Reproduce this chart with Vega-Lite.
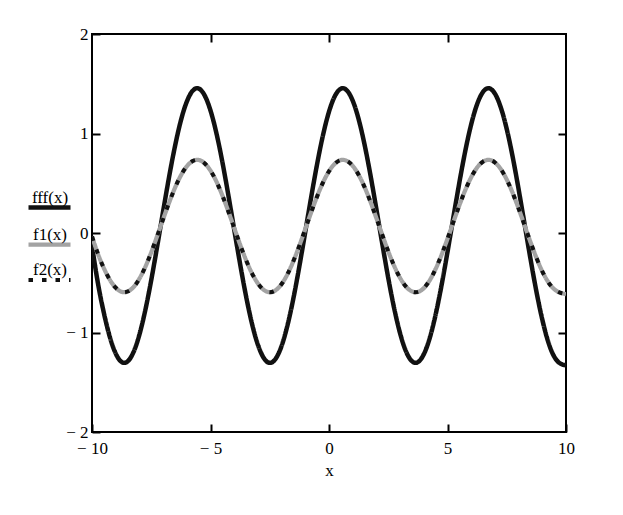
{
  "$schema": "https://vega.github.io/schema/vega-lite/v6.json",
  "width": 474,
  "height": 398,
  "autosize": {"type": "none"},
  "padding": {"left": 92, "top": 34, "right": 57, "bottom": 83},
  "background": "white",
  "config": {
    "view": {"stroke": "black", "strokeWidth": 2},
    "axis": {
      "grid": false,
      "domain": false,
      "labelFont": "Liberation Serif",
      "titleFont": "Liberation Serif",
      "labelColor": "black",
      "titleColor": "black",
      "tickColor": "black",
      "tickWidth": 2,
      "labelFontSize": 17,
      "titleFontSize": 17,
      "titleFontWeight": "normal",
      "labelOverlap": false,
      "labelFlush": false
    }
  },
  "data": {
    "values": [
      {"x": -10, "fff": -0.13, "f1": -0.035, "f2": -0.035},
      {"x": -9.75, "fff": -0.504, "f1": -0.209, "f2": -0.209},
      {"x": -9.5, "fff": -0.802, "f1": -0.353, "f2": -0.353},
      {"x": -9.25, "fff": -1.043, "f1": -0.469, "f2": -0.469},
      {"x": -9, "fff": -1.211, "f1": -0.55, "f2": -0.55},
      {"x": -8.75, "fff": -1.296, "f1": -0.591, "f2": -0.591},
      {"x": -8.5, "fff": -1.291, "f1": -0.588, "f2": -0.588},
      {"x": -8.25, "fff": -1.198, "f1": -0.544, "f2": -0.544},
      {"x": -8, "fff": -1.022, "f1": -0.459, "f2": -0.459},
      {"x": -7.75, "fff": -0.775, "f1": -0.34, "f2": -0.34},
      {"x": -7.5, "fff": -0.473, "f1": -0.194, "f2": -0.194},
      {"x": -7.25, "fff": -0.135, "f1": -0.031, "f2": -0.031},
      {"x": -7, "fff": 0.217, "f1": 0.138, "f2": 0.138},
      {"x": -6.75, "fff": 0.56, "f1": 0.303, "f2": 0.303},
      {"x": -6.5, "fff": 0.87, "f1": 0.453, "f2": 0.453},
      {"x": -6.25, "fff": 1.13, "f1": 0.578, "f2": 0.578},
      {"x": -6, "fff": 1.32, "f1": 0.67, "f2": 0.67},
      {"x": -5.75, "fff": 1.43, "f1": 0.723, "f2": 0.723},
      {"x": -5.5, "fff": 1.452, "f1": 0.734, "f2": 0.734},
      {"x": -5.25, "fff": 1.384, "f1": 0.701, "f2": 0.701},
      {"x": -5, "fff": 1.231, "f1": 0.627, "f2": 0.627},
      {"x": -4.75, "fff": 1.003, "f1": 0.517, "f2": 0.517},
      {"x": -4.5, "fff": 0.715, "f1": 0.378, "f2": 0.378},
      {"x": -4.25, "fff": 0.385, "f1": 0.219, "f2": 0.219},
      {"x": -4, "fff": 0.035, "f1": 0.051, "f2": 0.051},
      {"x": -3.75, "fff": -0.312, "f1": -0.117, "f2": -0.117},
      {"x": -3.5, "fff": -0.635, "f1": -0.272, "f2": -0.272},
      {"x": -3.25, "fff": -0.911, "f1": -0.405, "f2": -0.405},
      {"x": -3, "fff": -1.123, "f1": -0.507, "f2": -0.507},
      {"x": -2.75, "fff": -1.257, "f1": -0.572, "f2": -0.572},
      {"x": -2.5, "fff": -1.305, "f1": -0.595, "f2": -0.595},
      {"x": -2.25, "fff": -1.263, "f1": -0.575, "f2": -0.575},
      {"x": -2, "fff": -1.134, "f1": -0.513, "f2": -0.513},
      {"x": -1.75, "fff": -0.926, "f1": -0.413, "f2": -0.413},
      {"x": -1.5, "fff": -0.654, "f1": -0.281, "f2": -0.281},
      {"x": -1.25, "fff": -0.334, "f1": -0.127, "f2": -0.127},
      {"x": -1, "fff": 0.013, "f1": 0.04, "f2": 0.04},
      {"x": -0.75, "fff": 0.363, "f1": 0.209, "f2": 0.209},
      {"x": -0.5, "fff": 0.695, "f1": 0.369, "f2": 0.369},
      {"x": -0.25, "fff": 0.987, "f1": 0.509, "f2": 0.509},
      {"x": 0, "fff": 1.219, "f1": 0.621, "f2": 0.621},
      {"x": 0.25, "fff": 1.377, "f1": 0.697, "f2": 0.697},
      {"x": 0.5, "fff": 1.45, "f1": 0.733, "f2": 0.733},
      {"x": 0.75, "fff": 1.434, "f1": 0.725, "f2": 0.725},
      {"x": 1, "fff": 1.33, "f1": 0.675, "f2": 0.675},
      {"x": 1.25, "fff": 1.144, "f1": 0.585, "f2": 0.585},
      {"x": 1.5, "fff": 0.889, "f1": 0.462, "f2": 0.462},
      {"x": 1.75, "fff": 0.581, "f1": 0.314, "f2": 0.314},
      {"x": 2, "fff": 0.239, "f1": 0.149, "f2": 0.149},
      {"x": 2.25, "fff": -0.112, "f1": -0.02, "f2": -0.02},
      {"x": 2.5, "fff": -0.452, "f1": -0.184, "f2": -0.184},
      {"x": 2.75, "fff": -0.757, "f1": -0.331, "f2": -0.331},
      {"x": 3, "fff": -1.009, "f1": -0.452, "f2": -0.452},
      {"x": 3.25, "fff": -1.19, "f1": -0.539, "f2": -0.539},
      {"x": 3.5, "fff": -1.288, "f1": -0.587, "f2": -0.587},
      {"x": 3.75, "fff": -1.298, "f1": -0.592, "f2": -0.592},
      {"x": 4, "fff": -1.219, "f1": -0.554, "f2": -0.554},
      {"x": 4.25, "fff": -1.056, "f1": -0.475, "f2": -0.475},
      {"x": 4.5, "fff": -0.819, "f1": -0.361, "f2": -0.361},
      {"x": 4.75, "fff": -0.524, "f1": -0.219, "f2": -0.219},
      {"x": 5, "fff": -0.191, "f1": -0.058, "f2": -0.058},
      {"x": 5.25, "fff": 0.161, "f1": 0.111, "f2": 0.111},
      {"x": 5.5, "fff": 0.506, "f1": 0.278, "f2": 0.278},
      {"x": 5.75, "fff": 0.824, "f1": 0.431, "f2": 0.431},
      {"x": 6, "fff": 1.092, "f1": 0.56, "f2": 0.56},
      {"x": 6.25, "fff": 1.295, "f1": 0.658, "f2": 0.658},
      {"x": 6.5, "fff": 1.418, "f1": 0.717, "f2": 0.717},
      {"x": 6.75, "fff": 1.455, "f1": 0.735, "f2": 0.735},
      {"x": 7, "fff": 1.401, "f1": 0.709, "f2": 0.709},
      {"x": 7.25, "fff": 1.261, "f1": 0.642, "f2": 0.642},
      {"x": 7.5, "fff": 1.044, "f1": 0.537, "f2": 0.537},
      {"x": 7.75, "fff": 0.765, "f1": 0.402, "f2": 0.402},
      {"x": 8, "fff": 0.44, "f1": 0.246, "f2": 0.246},
      {"x": 8.25, "fff": 0.092, "f1": 0.078, "f2": 0.078},
      {"x": 8.5, "fff": -0.258, "f1": -0.09, "f2": -0.09},
      {"x": 8.75, "fff": -0.586, "f1": -0.248, "f2": -0.248},
      {"x": 9, "fff": -0.87, "f1": -0.386, "f2": -0.386},
      {"x": 9.25, "fff": -1.094, "f1": -0.493, "f2": -0.493},
      {"x": 9.5, "fff": -1.241, "f1": -0.564, "f2": -0.564},
      {"x": 9.75, "fff": -1.31, "f1": -0.6, "f2": -0.6},
      {"x": 10, "fff": -1.33, "f1": -0.615, "f2": -0.615}
    ]
  },
  "transform": [{"fold": ["fff", "f1", "f2"], "as": ["key", "val"]}],
  "layer": [
    {
      "mark": {"type": "line", "interpolate": "natural", "clip": true},
      "encoding": {
        "x": {
          "field": "x",
          "type": "quantitative",
          "scale": {"domain": [-10, 10], "nice": false, "zero": false},
          "axis": {
            "orient": "bottom",
            "values": [-10, -5, 0, 5, 10],
            "labelExpr": "datum.value < 0 ? '− ' + abs(datum.value) : datum.label",
            "tickSize": -8,
            "labelPadding": 16,
            "title": "x",
            "titlePadding": 6
          }
        },
        "y": {
          "field": "val",
          "type": "quantitative",
          "scale": {"domain": [-2, 2], "nice": false, "zero": false},
          "axis": {
            "orient": "left",
            "values": [-2, -1, 0, 1, 2],
            "labelExpr": "datum.value < 0 ? '− ' + abs(datum.value) : datum.label",
            "tickSize": -8,
            "labelPadding": 12,
            "title": null
          }
        },
        "color": {
          "field": "key",
          "type": "nominal",
          "scale": {"domain": ["fff", "f1", "f2"], "range": ["#111111", "#a3a3a3", "#111111"]},
          "legend": {
            "title": null,
            "orient": "none",
            "legendX": -66,
            "legendY": 150,
            "padding": 0,
            "symbolType": "stroke",
            "symbolSize": 1764,
            "symbolStrokeWidth": 4.5,
            "labelFont": "Liberation Serif",
            "labelFontSize": 17,
            "labelColor": "black",
            "labelAlign": "center",
            "labelBaseline": "line-bottom",
            "labelOffset": -23,
            "rowPadding": 4,
            "labelExpr": "datum.label + '(x)'"
          }
        },
        "strokeDash": {
          "field": "key",
          "type": "nominal",
          "scale": {"domain": ["fff", "f1", "f2"], "range": [[1, 0], [1, 0], [4.5, 9]]},
          "legend": {
            "title": null,
            "orient": "none",
            "legendX": -66,
            "legendY": 150,
            "padding": 0,
            "symbolType": "stroke",
            "symbolSize": 1764,
            "symbolStrokeWidth": 4.5,
            "labelFont": "Liberation Serif",
            "labelFontSize": 17,
            "labelColor": "black",
            "labelAlign": "center",
            "labelBaseline": "line-bottom",
            "labelOffset": -23,
            "rowPadding": 4,
            "labelExpr": "datum.label + '(x)'"
          }
        },
        "strokeWidth": {
          "field": "key",
          "type": "ordinal",
          "scale": {"domain": ["fff", "f1", "f2"], "range": [4.5, 4, 5]},
          "legend": null
        }
      }
    },
    {
      "mark": {"type": "line", "opacity": 0},
      "encoding": {
        "x": {
          "field": "x",
          "type": "quantitative",
          "axis": {"orient": "top", "values": [-5, 0, 5], "labels": false, "title": null, "tickSize": -8}
        },
        "y": {
          "field": "val",
          "type": "quantitative",
          "axis": {"orient": "right", "values": [-1, 0, 1], "labels": false, "title": null, "tickSize": -8}
        }
      }
    }
  ],
  "resolve": {"axis": {"x": "independent", "y": "independent"}}
}
